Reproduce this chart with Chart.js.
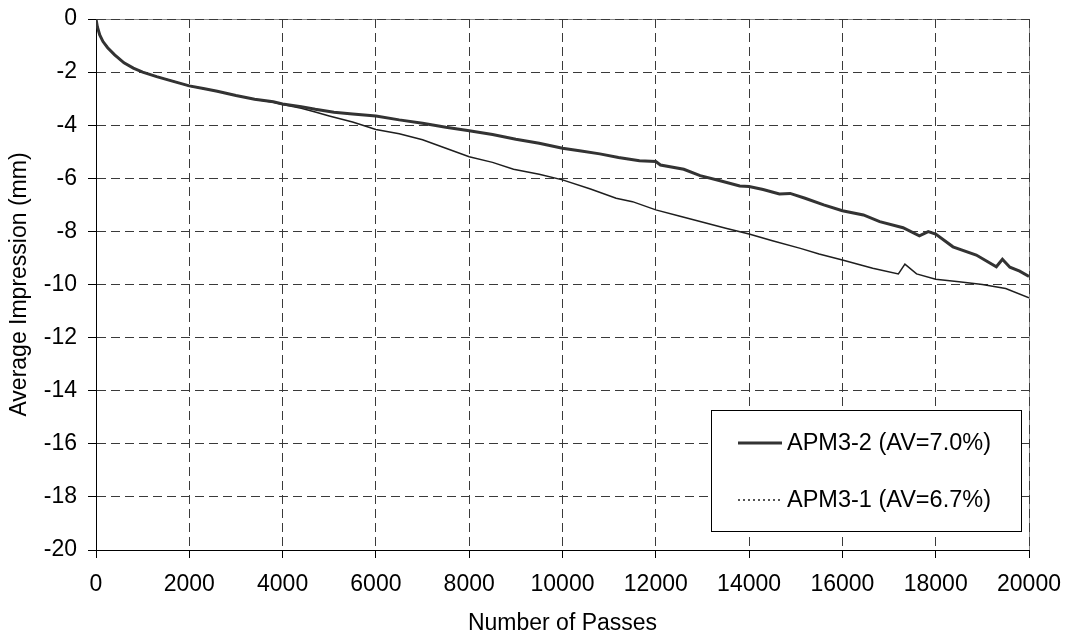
<!DOCTYPE html>
<html>
<head>
<meta charset="utf-8">
<script src="https://cdn.jsdelivr.net/npm/chart.js@4.4.1/dist/chart.umd.min.js"></script>
<style>
  html, body { margin: 0; padding: 0; background: #fff; }
</style>
</head>
<body>
<canvas id="chart" width="1069" height="638"></canvas>
<script>
// APM3-2 (AV=7.0%)
const apm32Passes = [0, 30, 80, 150, 250, 400, 600, 800, 1000, 1300, 1600, 2000, 2300, 2600, 3000, 3400, 3800, 4000,
  4400, 4700, 5100, 5500, 6000, 6500, 7000, 7500, 8000, 8500, 9000, 9500, 10000, 10400, 10800, 11200, 11650, 12000,
  12100, 12600, 12950, 13400, 13800, 14000, 14300, 14650, 14880, 15200, 15600, 16000, 16450, 16800, 17300, 17650,
  17840, 18000, 18370, 18870, 19300, 19430, 19590, 19800, 20000];
const apm32Depth = [0, -0.3, -0.6, -0.85, -1.08, -1.35, -1.65, -1.85, -2.0, -2.17, -2.32, -2.52, -2.62, -2.72, -2.88, -3.02, -3.12, -3.2,
  -3.3, -3.4, -3.51, -3.58, -3.65, -3.8, -3.93, -4.08, -4.21, -4.35, -4.53, -4.68, -4.87, -4.97, -5.08, -5.22, -5.34, -5.37,
  -5.5, -5.66, -5.9, -6.1, -6.29, -6.31, -6.42, -6.59, -6.57, -6.75, -7.0, -7.22, -7.38, -7.63, -7.86, -8.17,
  -8.01, -8.1, -8.58, -8.89, -9.33, -9.05, -9.35, -9.5, -9.7];

// APM3-1 (AV=6.7%)
const apm31Passes = [0, 30, 80, 150, 250, 400, 600, 800, 1000, 1300, 1600, 2000, 2300, 2600, 3000, 3400, 3800, 4000,
  4400, 4700, 5000, 5500, 6000, 6500, 7000, 7500, 8000, 8500, 8950, 9500, 10000, 10600, 11150, 11500, 12000, 12500,
  12950, 13500, 14000, 14500, 15100, 15500, 16000, 16650, 17200, 17340, 17590, 18000, 18500, 19000, 19500, 20000];
const apm31Depth = [0, -0.3, -0.6, -0.85, -1.08, -1.35, -1.65, -1.85, -2.0, -2.17, -2.32, -2.52, -2.62, -2.72, -2.88, -3.02, -3.14, -3.22,
  -3.36, -3.5, -3.65, -3.88, -4.16, -4.32, -4.55, -4.87, -5.19, -5.4, -5.66, -5.85, -6.06, -6.4, -6.75, -6.88, -7.19, -7.42,
  -7.63, -7.88, -8.1, -8.35, -8.64, -8.85, -9.08, -9.39, -9.6, -9.23, -9.6, -9.8, -9.9, -10.0, -10.15, -10.5];

const seriesLabels = ['APM3-2 (AV=7.0%)', 'APM3-1 (AV=6.7%)'];
const xTitle = 'Number of Passes';
const yTitle = 'Average Impression (mm)';

const FONT = '"Liberation Sans", Arial, sans-serif';

const toPoints = (xs, ys) => xs.map((x, i) => ({ x: x, y: ys[i] }));

// grey frame round the plot area, drawn under the grid
const plotFrame = {
  id: 'plotFrame',
  beforeDraw(chart) {
    const { ctx, chartArea: a } = chart;
    ctx.save();
    ctx.strokeStyle = '#8c8c8c';
    ctx.lineWidth = 1;
    ctx.strokeRect(a.left + 0.5, a.top + 0.5, a.right - a.left, a.bottom - a.top);
    ctx.restore();
  }
};

// boxed legend inside the lower right corner
const boxLegend = {
  id: 'boxLegend',
  afterDatasetsDraw(chart) {
    const { ctx, chartArea: a } = chart;
    const x0 = a.right - 318, y0 = a.bottom - 140, w = 310, h = 121;
    ctx.save();
    ctx.fillStyle = '#fff';
    ctx.fillRect(x0, y0, w, h);
    ctx.strokeStyle = '#000';
    ctx.lineWidth = 1;
    ctx.strokeRect(x0 + 0.5, y0 + 0.5, w, h);
    ctx.font = '23.5px ' + FONT;
    ctx.textBaseline = 'middle';
    ctx.fillStyle = '#000';
    chart.data.datasets.forEach((ds, i) => {
      const yy = y0 + 33 + i * 57;
      ctx.beginPath();
      ctx.strokeStyle = ds.borderColor;
      ctx.lineWidth = i === 0 ? 3 : 1.5;
      ctx.setLineDash(i === 0 ? [] : [2, 3]);
      ctx.moveTo(x0 + 27, yy);
      ctx.lineTo(x0 + 71, yy);
      ctx.stroke();
      ctx.setLineDash([]);
      ctx.fillText(ds.label, x0 + 76, yy + 1);
    });
    ctx.restore();
  }
};

new Chart(document.getElementById('chart'), {
  type: 'scatter',
  data: {
    datasets: [
      {
        label: seriesLabels[0],
        data: toPoints(apm32Passes, apm32Depth),
        showLine: true,
        borderColor: '#333333',
        borderWidth: 3,
        pointRadius: 0,
        tension: 0
      },
      {
        label: seriesLabels[1],
        data: toPoints(apm31Passes, apm31Depth),
        showLine: true,
        borderColor: '#1e1e1e',
        borderWidth: 1.5,
        pointRadius: 0,
        tension: 0
      }
    ]
  },
  options: {
    responsive: false,
    animation: false,
    layout: { padding: { top: 19, right: 40, bottom: 0, left: 0 } },
    plugins: {
      legend: { display: false },
      tooltip: { enabled: false }
    },
    scales: {
      x: {
        type: 'linear',
        min: 0,
        max: 20000,
        afterFit: (s) => { s.height = 88; s.paddingLeft = 0; s.paddingRight = 0; },
        ticks: {
          stepSize: 2000, color: '#000', font: { family: FONT, size: 23 }, padding: 13, maxRotation: 0,
          callback: (v) => String(v)
        },
        grid: { color: '#3a3a3a', tickColor: '#000', tickLength: 8, lineWidth: 1 },
        border: { color: '#000', width: 1, dash: [9, 5] },
        title: { display: true, text: xTitle, color: '#000', font: { family: FONT, size: 23 }, padding: { top: 4, bottom: 1 } }
      },
      y: {
        type: 'linear',
        min: -20,
        max: 0,
        afterFit: (s) => { s.width = 96; s.paddingTop = 0; s.paddingBottom = 0; },
        ticks: { stepSize: 2, color: '#000', font: { family: FONT, size: 23 }, padding: 11, callback: (v) => String(v) },
        grid: { color: '#3a3a3a', tickColor: '#000', tickLength: 8, lineWidth: 1 },
        border: { color: '#000', width: 1, dash: [9, 5] },
        title: { display: true, text: yTitle, color: '#000', font: { family: FONT, size: 23 }, padding: { top: 6, bottom: 0 } }
      }
    }
  },
  plugins: [plotFrame, boxLegend]
});
</script>
</body>
</html>
